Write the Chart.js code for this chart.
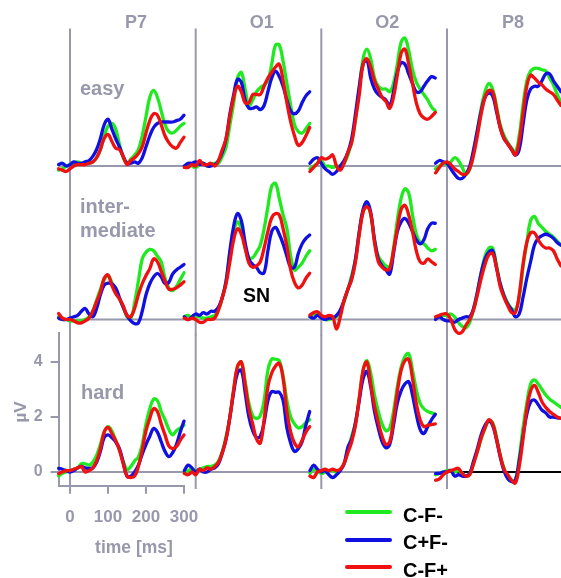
<!DOCTYPE html>
<html>
<head>
<meta charset="utf-8">
<script src="https://cdn.jsdelivr.net/npm/chart.js@4.4.1/dist/chart.umd.min.js"></script>
<style>
  body { margin: 0; background: #fff; }
  #page { position: relative; width: 561px; height: 578px; overflow: hidden;
          font-family: "Liberation Sans", Arial, sans-serif; font-weight: bold; }
  #page canvas { position: absolute; left: 0; top: 0; }
  .lbl { position: absolute; line-height: 1; white-space: nowrap; color: #9898ac; }
  .blk { color: #000; }
  .key { position: absolute; height: 4px; width: 47px; left: 345px; border-radius: 2px; }
</style>
</head>
<body>
<div id="page"></div>
<script>
// -------------------- Data --------------------
const times = [-30, -20, -10, 0, 10, 20, 30, 40, 50, 60, 70, 80, 90, 100, 110, 120, 130, 140,
  150, 160, 170, 180, 190, 200, 210, 220, 230, 240, 250, 260, 270, 280, 290, 300];
const electrodes = ['P7', 'O1', 'O2', 'P8'];
const levels = ['easy', 'intermediate', 'hard'];
const conditions = ['C-F-', 'C+F-', 'C-F+'];
const condColors = ['#1fea1f', '#1010e0', '#f01010'];
const xTicks = [0, 100, 200, 300];
const yTicks = [0, 2, 4];

// easy
const easyP7_CmFm = [-0.15, -0.1, 0, 0.05, 0.1, 0.15, 0.1, 0.1, 0.1, 0.15, 0.3, 0.6, 1.1, 1.45, 1.55, 1.35, 0.8, 0.3, 0.1, 0.25, 0.4, 0.6, 1.1, 1.8, 2.5, 2.75, 2.5, 2.0, 1.5, 1.25, 1.2, 1.3, 1.45, 1.55];
const easyP7_CpFm = [0.05, 0.1, 0, 0.05, 0.15, 0.1, 0.1, 0.15, 0.2, 0.35, 0.6, 1.0, 1.5, 1.7, 1.35, 1.0, 0.7, 0.35, 0.1, 0.1, 0.15, 0.1, 0.3, 0.7, 1.1, 1.4, 1.55, 1.6, 1.6, 1.6, 1.6, 1.65, 1.7, 1.85];
const easyP7_CmFp = [-0.1, -0.15, -0.2, -0.1, 0, 0.05, 0.05, 0.05, 0.1, 0.15, 0.3, 0.6, 1.0, 1.15, 0.9, 0.65, 0.6, 0.35, 0.05, 0.2, 0.3, 0.45, 0.7, 1.2, 1.65, 1.9, 1.85, 1.5, 1.1, 0.85, 0.7, 0.65, 0.85, 1.05];

const easyO1_CmFm = [0, 0.05, 0, -0.05, 0.05, 0.1, 0, 0.05, 0.1, 0.1, 0.35, 0.7, 1.5, 2.3, 3.2, 3.4, 2.8, 2.2, 2.4, 2.7, 2.85, 2.95, 3.1, 3.7, 4.4, 4.4, 3.8, 3.0, 2.2, 1.5, 1.25, 1.2, 1.35, 1.55];
const easyO1_CpFm = [0, 0.1, 0.1, 0.15, 0.05, 0.1, 0, 0, 0.05, 0.2, 0.5, 1.0, 1.9, 2.6, 3.15, 3.05, 2.4, 2.1, 2.1, 2.15, 2.05, 2.2, 2.7, 3.2, 3.45, 3.25, 2.9, 2.4, 2.0, 1.9, 2.0, 2.3, 2.55, 2.7];
const easyO1_CmFp = [-0.05, -0.05, 0.05, 0, 0.2, 0.05, 0.05, 0.1, 0, 0.2, 0.6, 1.0, 1.8, 2.5, 2.9, 2.7, 2.3, 2.3, 2.6, 2.6, 2.6, 2.9, 3.2, 3.4, 3.6, 3.7, 3.1, 2.3, 1.6, 1.1, 0.75, 0.85, 1.1, 1.4];

const easyO2_CmFm = [-0.1, 0, 0.1, 0.2, 0, 0, -0.05, 0, 0, 0.1, 0.4, 0.9, 1.7, 2.8, 3.9, 4.25, 3.9, 3.2, 2.9, 2.8, 2.8, 2.7, 3.0, 3.7, 4.5, 4.65, 4.2, 3.5, 3.05, 2.8, 2.6, 2.4, 2.15, 2.0];
const easyO2_CpFm = [0.1, 0.25, 0.3, 0.1, -0.1, -0.2, -0.3, -0.2, 0, 0.2, 0.5, 1.0, 1.9, 2.9, 3.7, 3.85, 3.2, 2.8, 2.6, 2.5, 2.4, 2.2, 2.7, 3.4, 3.75, 3.7, 3.35, 3.0, 2.7, 2.7, 2.9, 3.1, 3.25, 3.2];
const easyO2_CmFp = [-0.2, -0.05, 0.1, 0.3, 0.25, 0.3, 0.4, 0, -0.15, 0.1, 0.5, 0.85, 1.7, 2.6, 3.7, 3.9, 3.6, 3.1, 2.8, 2.5, 2.35, 2.1, 2.5, 3.3, 4.1, 4.25, 3.7, 3.0, 2.3, 1.9, 1.75, 1.7, 1.8, 1.95];

const easyP8_CmFm = [-0.1, 0, 0.1, 0.05, 0.15, 0.3, 0.2, -0.05, -0.3, -0.1, 0.5, 1.3, 2.1, 2.7, 3.0, 2.8, 2.2, 1.5, 1.1, 0.85, 0.65, 0.5, 1.1, 2.2, 3.1, 3.45, 3.55, 3.55, 3.5, 3.45, 3.2, 2.95, 2.6, 2.3];
const easyP8_CpFm = [0.1, 0.2, 0.15, 0.1, -0.1, -0.3, -0.45, -0.45, -0.3, 0, 0.6, 1.3, 2.0, 2.5, 2.65, 2.55, 2.0, 1.4, 1.0, 0.8, 0.6, 0.4, 0.6, 1.5, 2.4, 2.8, 2.9, 2.9, 3.1, 3.35, 3.35, 3.1, 2.9, 2.7];
const easyP8_CmFp = [-0.25, -0.05, 0.1, 0.15, 0.05, -0.1, -0.2, -0.3, -0.3, -0.1, 0.4, 1.1, 1.9, 2.5, 2.75, 2.7, 2.1, 1.4, 1.0, 0.8, 0.6, 0.4, 0.9, 1.9, 2.9, 3.3, 3.2, 3.05, 2.95, 2.8, 2.7, 2.6, 2.4, 2.2];

// intermediate
const midP7_CmFm = [0.1, 0, 0, -0.05, -0.05, -0.05, -0.05, 0, 0.1, 0.3, 0.7, 1.1, 1.45, 1.6, 1.35, 1.0, 0.75, 0.45, 0.1, 0.05, 0.6, 1.4, 2.2, 2.45, 2.55, 2.5, 2.3, 2.1, 1.5, 1.15, 1.05, 1.2, 1.45, 1.7];
const midP7_CpFm = [0.05, 0, 0, 0.05, 0.1, 0.15, 0.3, 0.4, 0.2, 0.1, 0.4, 0.9, 1.25, 1.32, 1.3, 1.15, 0.8, 0.45, 0.15, -0.05, -0.15, -0.12, 0.3, 0.9, 1.3, 1.55, 1.68, 1.55, 1.3, 1.35, 1.65, 1.8, 1.9, 2.0];
const midP7_CmFp = [0.22, 0.05, 0, 0, -0.05, -0.12, -0.12, -0.05, 0.05, 0.3, 0.65, 1.0, 1.5, 1.62, 1.25, 0.95, 0.75, 0.5, 0.15, 0.1, 0.4, 0.9, 1.3, 1.6, 1.85, 2.2, 2.1, 1.75, 1.4, 1.1, 1.1, 1.15, 1.25, 1.37];

const midO1_CmFm = [0.1, 0.15, 0.05, 0.1, 0.1, 0.05, 0.05, 0.1, 0.15, 0.35, 0.8, 1.4, 2.4, 3.2, 3.55, 3.3, 2.6, 2.25, 2.25, 2.45, 2.7, 3.3, 4.1, 4.85, 4.95, 4.4, 3.8, 3.3, 2.3, 1.8, 1.9, 2.05, 2.3, 2.5];
const midO1_CpFm = [0.1, 0, 0.1, 0.2, 0.15, 0.25, 0.2, 0.3, 0.3, 0.45, 0.8, 1.4, 2.5, 3.4, 3.85, 3.6, 2.8, 2.2, 2.0, 1.9, 1.7, 1.7, 2.5, 3.2, 3.35, 3.1, 2.75, 2.3, 1.9, 1.9, 2.4, 2.75, 2.95, 3.07];
const midO1_CmFp = [0.05, 0, 0.05, 0, -0.1, -0.1, 0, 0, 0.05, 0.35, 0.8, 1.3, 2.1, 2.9, 3.3, 3.1, 2.6, 2.05, 1.9, 1.95, 2.1, 2.6, 3.2, 3.7, 3.85, 3.8, 3.3, 2.65, 1.8, 1.35, 1.15, 1.25, 1.5, 1.68];

const midO2_CmFm = [0.1, 0.2, 0.2, 0.1, 0, 0, 0.05, 0.1, 0.3, 0.65, 1.1, 1.6, 2.2, 3.2, 3.95, 4.15, 3.8, 2.9, 2.3, 2.1, 1.95, 1.9, 2.6, 3.6, 4.4, 4.75, 4.6, 3.8, 3.1, 2.8, 2.75, 2.6, 2.5, 2.55];
const midO2_CpFm = [0.1, 0.05, 0.15, 0.05, 0, 0.05, 0.05, 0.15, 0.35, 0.7, 1.1, 1.5, 2.2, 3.2, 4.0, 4.28, 3.9, 2.9, 2.2, 1.95, 1.8, 1.65, 2.4, 3.2, 3.55, 3.68, 3.5, 3.2, 2.9, 2.75, 2.9, 3.3, 3.5, 3.5];
const midO2_CmFp = [0.16, 0.25, 0.28, 0.15, 0.1, 0.15, 0.1, -0.35, 0.1, 0.7, 1.1, 1.45, 2.1, 3.1, 3.9, 4.1, 3.85, 2.8, 2.1, 1.9, 1.8, 1.85, 2.5, 3.3, 4.0, 4.15, 3.8, 3.2, 2.5, 2.1, 2.05, 2.2, 2.1, 2.0];

const midP8_CmFm = [0.05, 0.1, 0.15, 0.15, 0.2, 0.1, -0.1, -0.25, -0.3, -0.1, 0.4, 1.0, 1.7, 2.3, 2.6, 2.6, 2.0, 1.3, 0.9, 0.6, 0.4, 0.35, 0.8, 1.9, 2.8, 3.6, 3.75, 3.5, 3.35, 3.2, 3.1, 3.0, 2.85, 2.7];
const midP8_CpFm = [0, 0.1, 0, -0.05, -0.05, -0.1, 0, 0.05, 0.1, 0.1, 0.4, 1.0, 1.7, 2.2, 2.45, 2.5, 1.9, 1.3, 0.85, 0.55, 0.35, 0.1, 0.2, 0.8, 1.5, 2.1, 2.7, 2.95, 3.05, 3.1, 3.05, 2.95, 2.8, 2.7];
const midP8_CmFp = [0.1, 0.15, 0.2, 0.2, 0, -0.35, -0.5, -0.45, -0.2, 0, 0.35, 0.9, 1.5, 2.0, 2.35, 2.4, 1.9, 1.2, 0.8, 0.5, 0.25, 0.25, 0.9, 2.0, 2.8, 3.15, 3.15, 2.9, 2.7, 2.6, 2.6, 2.5, 2.2, 1.95];

// hard
const hardP7_CmFm = [-0.15, -0.05, 0, 0.05, 0.1, 0.15, 0.3, 0.3, 0.25, 0.35, 0.6, 1.0, 1.45, 1.65, 1.5, 1.15, 0.8, 0.4, 0.08, 0.2, 0.4, 0.55, 1.0, 1.75, 2.3, 2.65, 2.6, 2.2, 1.9, 1.55, 1.35, 1.5, 1.6, 1.7];
const hardP7_CpFm = [0.13, 0.1, 0.05, 0, 0.05, 0.15, 0.2, 0.15, 0.13, 0.15, 0.35, 0.75, 1.25, 1.35, 1.25, 1.1, 0.85, 0.35, -0.15, -0.15, 0, 0.25, 0.65, 1.0, 1.3, 1.58, 1.45, 1.1, 0.75, 0.56, 0.7, 1.0, 1.45, 1.85];
const hardP7_CmFp = [-0.06, 0, 0.05, 0.05, 0.1, 0.15, 0.2, 0, 0.05, 0.15, 0.4, 0.85, 1.45, 1.62, 1.4, 1.15, 0.8, 0.3, -0.15, -0.2, -0.15, 0.2, 0.8, 1.5, 1.95, 2.3, 2.2, 1.75, 1.35, 0.95, 0.85, 0.92, 1.15, 1.35];

const hardO1_CmFm = [-0.05, 0.05, 0.1, 0.05, 0.1, 0.15, 0.2, 0.2, 0.25, 0.4, 0.75, 1.3, 2.0, 3.0, 3.8, 4.0, 3.3, 2.5, 2.05, 1.95, 2.05, 2.6, 3.7, 4.1, 4.1, 4.05, 3.5, 2.6, 2.0, 1.75, 1.6, 1.65, 1.8, 1.9];
const hardO1_CpFm = [0.05, 0.25, 0.15, 0, 0.1, 0, 0, 0.1, 0.15, 0.3, 0.7, 1.2, 2.0, 2.9, 3.6, 3.7, 2.9, 2.0, 1.5, 1.25, 1.3, 1.8, 2.6, 2.92, 2.9, 2.9, 2.6, 1.6, 1.05, 0.75, 0.85, 1.1, 1.7, 2.2];
const hardO1_CmFp = [-0.05, -0.1, 0, -0.1, 0.1, 0.05, 0.15, 0.1, 0.2, 0.35, 0.7, 1.2, 2.0, 3.0, 3.85, 4.0, 3.2, 2.3, 1.75, 1.2, 1.05, 1.9, 3.1, 3.6, 3.85, 3.95, 3.4, 2.2, 1.45, 1.05, 0.92, 1.15, 1.45, 1.65];

const hardO2_CmFm = [-0.05, 0.1, 0.05, -0.05, 0, 0.05, 0.05, 0, 0.1, 0.3, 0.8, 1.3, 1.8, 2.7, 3.7, 4.05, 3.6, 2.8, 2.2, 1.75, 1.5, 1.6, 2.2, 3.1, 3.8, 4.2, 4.3, 3.7, 3.0, 2.5, 2.3, 2.2, 2.15, 2.1];
const hardO2_CpFm = [0.05, 0.25, 0.1, 0, 0.05, -0.1, -0.2, -0.1, 0.05, 0.3, 0.9, 1.2, 1.8, 2.6, 3.4, 3.65, 3.1, 2.2, 1.6, 1.1, 0.88, 1.0, 1.7, 2.5, 2.95, 3.2, 3.28, 2.8, 2.1, 1.55, 1.4, 1.65, 1.9, 2.1];
const hardO2_CmFp = [-0.15, -0.2, 0, 0.05, 0.1, 0.05, 0.1, 0.05, 0.1, 0.3, 0.7, 1.1, 1.7, 2.7, 3.7, 4.0, 3.2, 2.4, 1.8, 1.3, 1.0, 1.1, 1.9, 2.9, 3.7, 4.05, 4.1, 3.4, 2.5, 1.9, 1.65, 1.7, 1.72, 1.75];

const hardP8_CmFm = [-0.1, -0.05, 0, 0.05, 0.05, 0, 0.05, -0.05, -0.15, -0.05, 0.35, 0.75, 1.2, 1.6, 1.85, 1.8, 1.3, 0.6, 0.15, -0.2, -0.3, -0.3, 0.5, 1.6, 2.5, 3.2, 3.35, 3.2, 3.0, 2.8, 2.65, 2.55, 2.45, 2.35];
const hardP8_CpFm = [-0.05, -0.05, 0, 0, 0.05, -0.15, -0.1, -0.15, -0.15, -0.05, 0.4, 0.85, 1.35, 1.7, 1.85, 1.7, 1.2, 0.55, 0.05, -0.25, -0.35, -0.3, 0.4, 1.3, 2.1, 2.55, 2.62, 2.45, 2.25, 2.15, 2.0, 2.0, 1.97, 1.95];
const hardP8_CmFp = [-0.3, -0.25, -0.1, 0, 0.05, 0.1, 0.13, -0.05, -0.15, -0.1, 0.3, 0.75, 1.25, 1.6, 1.9, 1.75, 1.2, 0.6, 0.1, -0.1, -0.3, -0.4, 0.2, 1.2, 2.3, 2.95, 3.15, 2.9, 2.55, 2.35, 2.2, 2.1, 2.0, 1.95];

const panelData = [
  [[easyP7_CmFm, easyP7_CpFm, easyP7_CmFp], [easyO1_CmFm, easyO1_CpFm, easyO1_CmFp],
   [easyO2_CmFm, easyO2_CpFm, easyO2_CmFp], [easyP8_CmFm, easyP8_CpFm, easyP8_CmFp]],
  [[midP7_CmFm, midP7_CpFm, midP7_CmFp], [midO1_CmFm, midO1_CpFm, midO1_CmFp],
   [midO2_CmFm, midO2_CpFm, midO2_CmFp], [midP8_CmFm, midP8_CpFm, midP8_CmFp]],
  [[hardP7_CmFm, hardP7_CpFm, hardP7_CmFp], [hardO1_CmFm, hardO1_CpFm, hardO1_CmFp],
   [hardO2_CmFm, hardO2_CpFm, hardO2_CmFp], [hardP8_CmFm, hardP8_CpFm, hardP8_CmFp]]
];

// -------------------- Layout --------------------
const W = 561, H = 578;
const GRAY = '#9898ac';
const colZero = [70, 195.7, 321.3, 447];   // pixel of t = 0 ms in each column
const rowZero = [166, 319.5, 472];         // pixel of 0 µV in each row
const pxPerMs = 0.38, pxPerUv = 27.5;
const tMin = -30, tMax = 300;
const FONT = 'Liberation Sans, Arial, sans-serif';

const page = document.getElementById('page');

// zero reference lines of each panel
const zeroLines = {
  id: 'zeroLines',
  beforeDatasetsDraw(chart, args, opts) {
    const { ctx, chartArea: a, scales: { x, y } } = chart;
    const x0 = x.getPixelForValue(0), y0 = y.getPixelForValue(0);
    ctx.save();
    ctx.lineWidth = 2;
    ctx.strokeStyle = GRAY;
    ctx.beginPath();
    ctx.moveTo(x0, a.top); ctx.lineTo(x0, a.bottom);
    ctx.moveTo(a.left, y0); ctx.lineTo(opts.black ? x0 : a.right, y0);
    ctx.stroke();
    if (opts.black) {
      ctx.strokeStyle = '#000';
      ctx.beginPath();
      ctx.moveTo(x0, y0); ctx.lineTo(a.right, y0);
      ctx.stroke();
    }
    ctx.restore();
  }
};

function makePanel(row, col) {
  const withAxes = row === 2 && col === 0;
  const yMax = withAxes ? 5.05 : 5.0;
  const yMin = withAxes ? -0.5 : (row === 2 ? -0.62 : -0.58);
  const left = colZero[col] + tMin * pxPerMs;
  const right = colZero[col] + tMax * pxPerMs;
  const top = rowZero[row] - yMax * pxPerUv;
  const bottom = rowZero[row] - yMin * pxPerUv;
  const yAxisW = 58.6, xAxisH = 60;

  const canvas = document.createElement('canvas');
  canvas.width = W; canvas.height = H;
  page.appendChild(canvas);

  const datasets = conditions.map((c, i) => ({
    label: c,
    data: times.map((t, k) => ({ x: t, y: panelData[row][col][i][k] })),
    borderColor: condColors[i],
    borderWidth: 3.3,
    pointRadius: 0,
    tension: 0.4,
    fill: false,
    clip: false,
    borderJoinStyle: 'round',
    borderCapStyle: 'round',
    order: 3 - i
  }));

  const xFont = { family: FONT, size: 17, weight: 'bold' };
  const yFont = { family: FONT, size: 16, weight: 'bold' };
  const xScale = {
    type: 'linear', min: tMin, max: tMax, display: withAxes,
    afterBuildTicks: s => { s.ticks = xTicks.map(v => ({ value: v })); },
    border: { color: GRAY, width: 2 },
    grid: { drawOnChartArea: false, tickLength: 8, tickColor: GRAY, lineWidth: 2 },
    ticks: { color: GRAY, font: xFont, padding: 13, autoSkip: false, maxRotation: 0 }
  };
  const yScale = {
    type: 'linear', min: yMin, max: yMax, display: withAxes,
    afterBuildTicks: s => { s.ticks = yTicks.map(v => ({ value: v })); },
    border: { color: GRAY, width: 2 },
    grid: { drawOnChartArea: false, tickLength: 8, tickColor: GRAY, lineWidth: 2 },
    ticks: { color: GRAY, font: yFont, padding: 8 }
  };
  if (withAxes) {
    xScale.afterFit = s => { s.height = xAxisH; };
    yScale.afterFit = s => { s.width = yAxisW; };
  }

  return new Chart(canvas, {
    type: 'line',
    data: { datasets },
    plugins: [zeroLines],
    options: {
      responsive: false,
      animation: false,
      events: [],
      layout: {
        padding: {
          left: withAxes ? left - yAxisW : left,
          right: W - right,
          top: top,
          bottom: withAxes ? H - bottom - xAxisH : H - bottom
        }
      },
      plugins: {
        legend: { display: false },
        tooltip: { enabled: false },
        zeroLines: { black: row === 2 && col === 3 }
      },
      scales: { x: xScale, y: yScale }
    }
  });
}

for (let r = 0; r < levels.length; r++) {
  for (let c = 0; c < electrodes.length; c++) makePanel(r, c);
}

// -------------------- Text --------------------
function addText(text, x, y, size, cls, center) {
  const d = document.createElement('div');
  d.className = 'lbl' + (cls ? ' ' + cls : '');
  d.textContent = text;
  d.style.left = x + 'px';
  d.style.top = y + 'px';
  d.style.fontSize = size + 'px';
  if (center) d.style.transform = 'translateX(-50%)';
  page.appendChild(d);
  return d;
}

electrodes.forEach((e, i) => addText(e, colZero[i] + 66, 13, 18, '', true));
addText('easy', 80, 77.5, 20);
addText('inter-', 80, 195.5, 20);
addText('mediate', 80, 220, 20);
addText('hard', 81, 382, 20);
addText('SN', 243, 286, 19.5, 'blk');
addText('time [ms]', 134, 538.5, 17.5, '', true);
const uv = addText('µV', 20, 412, 17);
uv.style.transform = 'translate(-50%, -50%) rotate(-90deg)';

// legend
const keyY = [512.3, 539.5, 567];
conditions.forEach((c, i) => {
  const k = document.createElement('div');
  k.className = 'key';
  k.style.top = (keyY[i] - 2) + 'px';
  k.style.background = condColors[i];
  page.appendChild(k);
  addText(c, 403, keyY[i] - 7.5, 20, 'blk');
});
</script>
</body>
</html>
